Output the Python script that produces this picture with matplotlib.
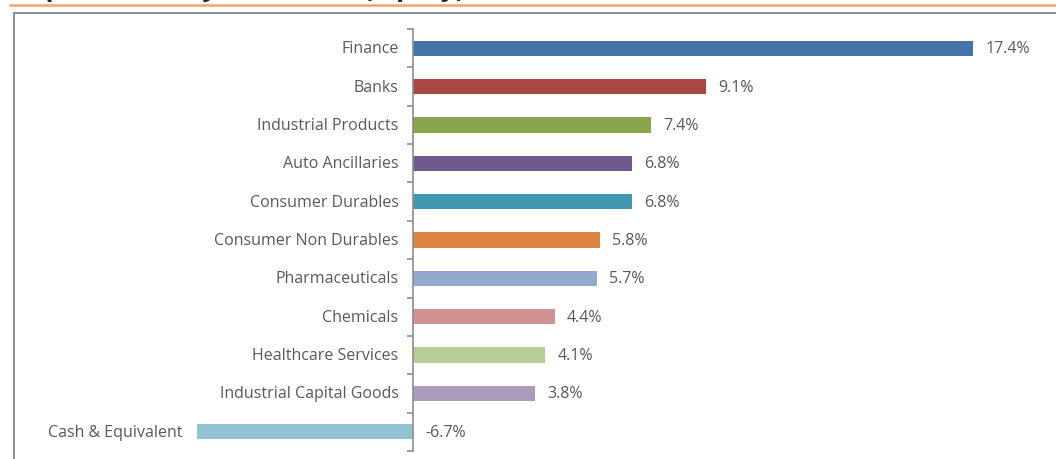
import matplotlib
matplotlib.use("Agg")
import matplotlib.pyplot as plt
from matplotlib.patches import Rectangle
from matplotlib.lines import Line2D

# ==========================================
# DATA
# ==========================================

industries = [
    "Finance",
    "Banks",
    "Industrial Products",
    "Auto Ancillaries",
    "Consumer Durables",
    "Consumer Non Durables",
    "Pharmaceuticals",
    "Chemicals",
    "Healthcare Services",
    "Industrial Capital Goods",
    "Cash & Equivalent",
]
weights = [17.4, 9.1, 7.4, 6.8, 6.8, 5.8, 5.7, 4.4, 4.1, 3.8, -6.7]
colors = [
    "#4572A7", "#AA4643", "#89A54E", "#71588F", "#4198AF", "#DB843D",
    "#93A9CF", "#D19392", "#B9CD96", "#A99BBD", "#92C3D4",
]
title = "Top 10 Industry Allocation (Equity)"

# ==========================================
# FIGURE
# ==========================================

W, H = 1056, 460
fig = plt.figure(figsize=(W / 100, H / 100), dpi=100)
plt.rcParams["font.family"] = ["Open Sans", "DejaVu Sans"]

# cropped title - only the descenders show
fig.text(16 / W, 1 + 4 / H, title, fontsize=19, fontweight="bold",
         color="#262626", ha="left", va="baseline")

# orange rule and grey frame
fig.add_artist(Line2D([10 / W, 1], [1 - 6 / H, 1 - 6 / H],
                      color="#F4A46E", lw=1.8, transform=fig.transFigure))
fig.add_artist(Rectangle((13.5 / W, -0.1), 1.2, 1.1 - 13.5 / H, fill=False,
                         edgecolor="#8C8C8C", lw=1.4, transform=fig.transFigure))

# axes mapped so zero sits at x=413px
scale = 32.2
x0 = 413
ax_left, ax_right = 13, W
top, bottom = 30, 452
ax = fig.add_axes([ax_left / W, 1 - bottom / H, (ax_right - ax_left) / W,
                   (bottom - top) / H])
ax.set_xlim((ax_left - x0) / scale, (ax_right - x0) / scale)
ax.set_ylim(len(industries) - 0.5, -0.5)
ax.patch.set_alpha(0)

pos = list(range(len(industries)))
ax.barh(pos, weights, height=0.4, color=colors)

for i, (name, v) in enumerate(zip(industries, weights)):
    ax.text(min(v, 0) - 0.45, i, name, ha="right", va="center",
            fontsize=11.5, color="#595959")
    ax.text(max(v, 0) + 0.38, i, f"{v:.1f}%", ha="left", va="center",
            fontsize=11.5, color="#595959")

for s in ["top", "right", "bottom"]:
    ax.spines[s].set_visible(False)
ax.spines["left"].set_position(("data", 0))
ax.spines["left"].set_color("#8C8C8C")
ax.spines["left"].set_linewidth(1.2)
ax.set_xticks([])
ax.set_yticks([p - 0.5 for p in pos] + [len(pos) - 0.5])
ax.set_yticklabels([])
ax.tick_params(axis="y", length=4, width=1.2, color="#8C8C8C", direction="out")

plt.savefig("out.png", dpi=100)
